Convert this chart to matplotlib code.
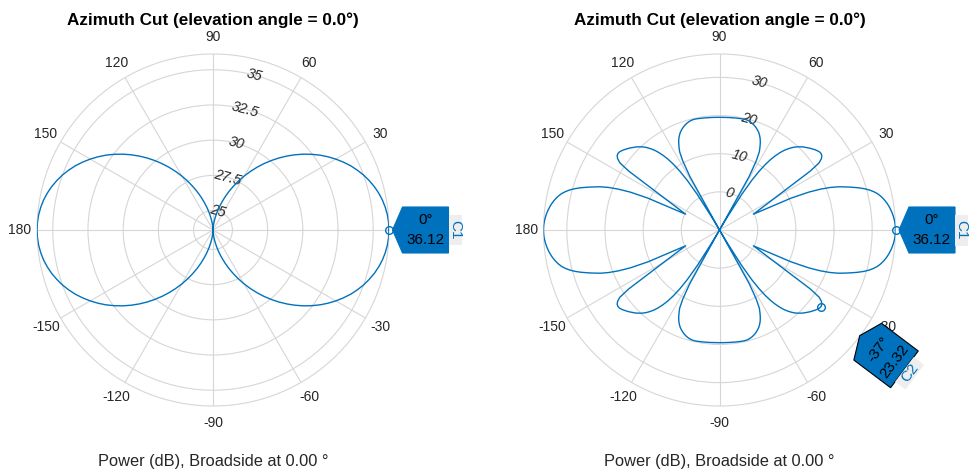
import numpy as np
import matplotlib.pyplot as plt
import matplotlib.transforms as mtransforms
from matplotlib.patches import Polygon

plt.rcParams['font.family'] = ['Liberation Sans', 'DejaVu Sans']

# ---- data ----
# left pattern, azimuth 0..360 step 2.5 deg
az_left = np.arange(0, 360.1, 2.5)
pow_left = [
    36.12, 36.10, 36.05, 35.96, 35.84, 35.68, 35.49, 35.26, 35.01, 34.72,
    34.41, 34.06, 33.69, 33.30, 32.89, 32.45, 32.00, 31.53, 31.05, 30.56,
    30.06, 29.56, 29.05, 28.54, 28.04, 27.54, 27.05, 26.58, 26.12, 25.68,
    25.27, 24.88, 24.52, 24.21, 23.94, 23.73, 23.62,
    23.73, 23.94, 24.21, 24.52, 24.88, 25.27, 25.68, 26.12, 26.58, 27.05,
    27.54, 28.04, 28.54, 29.05, 29.56, 30.06, 30.56, 31.05, 31.53, 32.00,
    32.45, 32.89, 33.30, 33.69, 34.06, 34.41, 34.72, 35.01, 35.26, 35.49,
    35.68, 35.84, 35.96, 36.05, 36.10, 36.12,
    36.10, 36.05, 35.96, 35.84, 35.68, 35.49, 35.26, 35.01, 34.72,
    34.41, 34.06, 33.69, 33.30, 32.89, 32.45, 32.00, 31.53, 31.05, 30.56,
    30.06, 29.56, 29.05, 28.54, 28.04, 27.54, 27.05, 26.58, 26.12, 25.68,
    25.27, 24.88, 24.52, 24.21, 23.94, 23.73, 23.62,
    23.73, 23.94, 24.21, 24.52, 24.88, 25.27, 25.68, 26.12, 26.58, 27.05,
    27.54, 28.04, 28.54, 29.05, 29.56, 30.06, 30.56, 31.05, 31.53, 32.00,
    32.45, 32.89, 33.30, 33.69, 34.06, 34.41, 34.72, 35.01, 35.26, 35.49,
    35.68, 35.84, 35.96, 36.05, 36.10, 36.12]

# right pattern, azimuth 0..360 step 1 deg
az_right = np.arange(0, 361, 1)
pow_right = [
    # 0..90
    36.12, 36.10, 36.04, 35.93, 35.78, 35.60, 35.38, 35.12, 34.82, 34.48,
    34.08, 33.62, 33.08, 32.45, 31.60, 30.60, 29.35, 27.90, 26.30, 24.70,
    23.10, 21.10, 18.60, 15.40, 10.50, -0.20, 0.70, 1.70, 3.00, 4.60,
    6.60, 9.20, 12.90, 18.40, 21.50, 22.60, 23.15, 23.32, 23.25, 23.00,
    22.70, 22.35, 22.00, 21.60, 21.20, 20.80, 20.30, 19.80, 19.20, 18.50,
    17.70, 16.80, 15.70, 14.40, 12.90, 11.00, 8.60, 5.50, 1.00, -6.00,
    -10.00, 6.00, 10.50, 13.00, 14.20, 15.30, 16.20, 16.90, 17.50, 17.95,
    18.35, 18.70, 19.00, 19.25, 19.45, 19.60, 19.70, 19.75, 19.75, 19.72,
    19.70, 19.67, 19.64, 19.62, 19.60, 19.58, 19.56, 19.55, 19.54, 19.53,
    19.53,
    # 91..180
    19.53, 19.54, 19.55, 19.56, 19.58, 19.60, 19.62, 19.64, 19.67, 19.70,
    19.72, 19.75, 19.75, 19.70, 19.60, 19.45, 19.25, 19.00, 18.70, 18.35,
    17.95, 17.50, 16.90, 16.20, 15.30, 14.20, 13.00, 10.50, 6.00, -10.00,
    -6.00, 1.00, 5.50, 8.60, 11.00, 12.90, 14.40, 15.70, 16.80, 17.70,
    18.50, 19.20, 19.80, 20.30, 20.80, 21.20, 21.60, 22.00, 22.35, 22.70,
    23.00, 23.25, 23.32, 23.15, 22.60, 21.50, 18.40, 12.90, 9.20, 6.60,
    4.60, 3.00, 1.70, 0.70, -0.20, 10.50, 15.40, 18.60, 21.10, 23.10,
    24.70, 26.30, 27.90, 29.35, 30.60, 31.60, 32.45, 33.08, 33.62, 34.08,
    34.48, 34.82, 35.12, 35.38, 35.60, 35.78, 35.93, 36.04, 36.10, 36.12,
    # 181..270
    36.10, 36.04, 35.93, 35.78, 35.60, 35.38, 35.12, 34.82, 34.48,
    34.08, 33.62, 33.08, 32.45, 31.60, 30.60, 29.35, 27.90, 26.30, 24.70,
    23.10, 21.10, 18.60, 15.40, 10.50, -0.20, 0.70, 1.70, 3.00, 4.60,
    6.60, 9.20, 12.90, 18.40, 21.50, 22.60, 23.15, 23.32, 23.25, 23.00,
    22.70, 22.35, 22.00, 21.60, 21.20, 20.80, 20.30, 19.80, 19.20, 18.50,
    17.70, 16.80, 15.70, 14.40, 12.90, 11.00, 8.60, 5.50, 1.00, -6.00,
    -10.00, 6.00, 10.50, 13.00, 14.20, 15.30, 16.20, 16.90, 17.50, 17.95,
    18.35, 18.70, 19.00, 19.25, 19.45, 19.60, 19.70, 19.75, 19.75, 19.72,
    19.70, 19.67, 19.64, 19.62, 19.60, 19.58, 19.56, 19.55, 19.54, 19.53,
    19.53,
    # 271..360
    19.53, 19.54, 19.55, 19.56, 19.58, 19.60, 19.62, 19.64, 19.67, 19.70,
    19.72, 19.75, 19.75, 19.70, 19.60, 19.45, 19.25, 19.00, 18.70, 18.35,
    17.95, 17.50, 16.90, 16.20, 15.30, 14.20, 13.00, 10.50, 6.00, -10.00,
    -6.00, 1.00, 5.50, 8.60, 11.00, 12.90, 14.40, 15.70, 16.80, 17.70,
    18.50, 19.20, 19.80, 20.30, 20.80, 21.20, 21.60, 22.00, 22.35, 22.70,
    23.00, 23.25, 23.32, 23.15, 22.60, 21.50, 18.40, 12.90, 9.20, 6.60,
    4.60, 3.00, 1.70, 0.70, -0.20, 10.50, 15.40, 18.60, 21.10, 23.10,
    24.70, 26.30, 27.90, 29.35, 30.60, 31.60, 32.45, 33.08, 33.62, 34.08,
    34.48, 34.82, 35.12, 35.38, 35.60, 35.78, 35.93, 36.04, 36.10, 36.12]

rlim_left = (23.62, 36.12)
rticks_left = [25, 27.5, 30, 32.5, 35]
rlabels_left = ['25', '27.5', '30', '32.5', '35']
rlim_right = (-10, 36.12)
rticks_right = [0, 10, 20, 30]
rlabels_right = ['0', '10', '20', '30']

theta_ticks = [0, 30, 60, 90, 120, 150, 180, 210, 240, 270, 300, 330]
# the "0" label sits under the C1 data tip in the original, so it is left blank
theta_labels = ['', '30', '60', '90', '120', '150', '180',
                '-150', '-120', '-90', '-60', '-30']

# data tips: (azimuth, value, name)
tips_left = [(0, 36.12, 'C1')]
tips_right = [(0, 36.12, 'C1'), (-37, 23.32, 'C2')]

title = 'Azimuth Cut (elevation angle = 0.0°)'
xlabel = 'Power (dB), Broadside at 0.00 °'

BLUE = '#0072BD'
GRID = '#d6d6d6'
TXT = '#262626'
W, H = 971, 473
R = 176

fig = plt.figure(figsize=(W / 100, H / 100), dpi=100)
ident = mtransforms.IdentityTransform()


def make_ax(cx, cy, az, pw, rlim, rticks, rlabels):
    ax = fig.add_axes([(cx - R) / W, (H - cy - R) / H, 2 * R / W, 2 * R / H],
                      projection='polar')
    ax.set_theta_zero_location('E')
    ax.plot(np.deg2rad(az), pw, color=BLUE, lw=1.0, zorder=3)
    ax.set_rlim(*rlim)
    ax.set_rticks(rticks)
    ax.set_yticklabels([])
    ax.set_thetagrids(theta_ticks, labels=[''] * len(theta_ticks))
    ax.grid(color=GRID, lw=0.8)
    ax.spines['polar'].set_color(GRID)
    ax.spines['polar'].set_linewidth(0.8)
    for th, lb in zip(theta_ticks, theta_labels):
        if not lb:
            continue
        t = np.deg2rad(th)
        ax.annotate(lb, xy=(t, rlim[1]), xytext=(17 * np.cos(t), 17 * np.sin(t)),
                    textcoords='offset pixels', ha='center', va='center',
                    fontsize=10, color=TXT, annotation_clip=False)
    for v, lb in zip(rticks, rlabels):
        ax.text(np.deg2rad(75), v, lb, rotation=-15, ha='center', va='center',
                fontsize=10.3, style='italic', color=TXT, zorder=2)
    fig.text(cx / W, 1 - 20 / H, title, ha='center', va='center',
             fontsize=12.3, fontweight='bold', color='black')
    fig.text(cx / W, 1 - 461 / H, xlabel, ha='center', va='center',
             fontsize=11.8, color=TXT)
    return ax


def add_tip(ax, az, val, name, dist, text_rot, tab_rot, edge):
    mx, my = ax.transData.transform((np.deg2rad(az), val))
    ax.plot(np.deg2rad(az), val, 'o', mfc='none', mec=BLUE, ms=5.5, mew=1, zorder=4,
            clip_on=False)
    a = np.deg2rad(az)
    er = np.array([np.cos(a), np.sin(a)])
    et = np.array([-er[1], er[0]])
    c = np.array([mx, my]) + dist * er
    hw = 23
    pts = [c - (hw + 10) * er, c - hw * er + hw * et, c + hw * er + hw * et,
           c + hw * er - hw * et, c - hw * er - hw * et]
    fig.add_artist(Polygon(pts, closed=True, transform=ident, facecolor=BLUE,
                           edgecolor=edge, lw=0.8, zorder=10))
    tc = c + (hw + 6.5) * er
    tab = [tc - 6.5 * er - 15.5 * et, tc + 6.5 * er - 15.5 * et,
           tc + 6.5 * er + 15.5 * et, tc - 6.5 * er + 15.5 * et]
    fig.add_artist(Polygon(tab, closed=True, transform=ident, facecolor='#eeeeee',
                           edgecolor='none', zorder=10))
    tr = np.deg2rad(text_rot)
    up = np.array([-np.sin(tr), np.cos(tr)])
    l1 = c + 10 * up
    l2 = c - 10 * up
    fig.text(l1[0], l1[1], '%d°' % az, transform=ident, ha='center', va='center',
             rotation=text_rot, rotation_mode='anchor', fontsize=11, color='black', zorder=11)
    fig.text(l2[0], l2[1], '%.2f' % val, transform=ident, ha='center', va='center',
             rotation=text_rot, rotation_mode='anchor', fontsize=11, color='black', zorder=11)
    fig.text(tc[0], tc[1], name, transform=ident, ha='center', va='center',
             rotation=tab_rot, rotation_mode='anchor', fontsize=11, color=BLUE, zorder=11)


ax1 = make_ax(213, 230, az_left, pow_left, rlim_left, rticks_left, rlabels_left)
ax2 = make_ax(719.5, 230, az_right, pow_right, rlim_right, rticks_right, rlabels_right)

for az, val, name in tips_left:
    add_tip(ax1, az, val, name, 36.5, 0, -90, BLUE)

add_tip(ax2, tips_right[0][0], tips_right[0][1], tips_right[0][2], 36.5, 0, -90, BLUE)
add_tip(ax2, tips_right[1][0], tips_right[1][1], tips_right[1][2], 81.4, 53, 53, 'black')

fig.savefig('out.png', dpi=100)
